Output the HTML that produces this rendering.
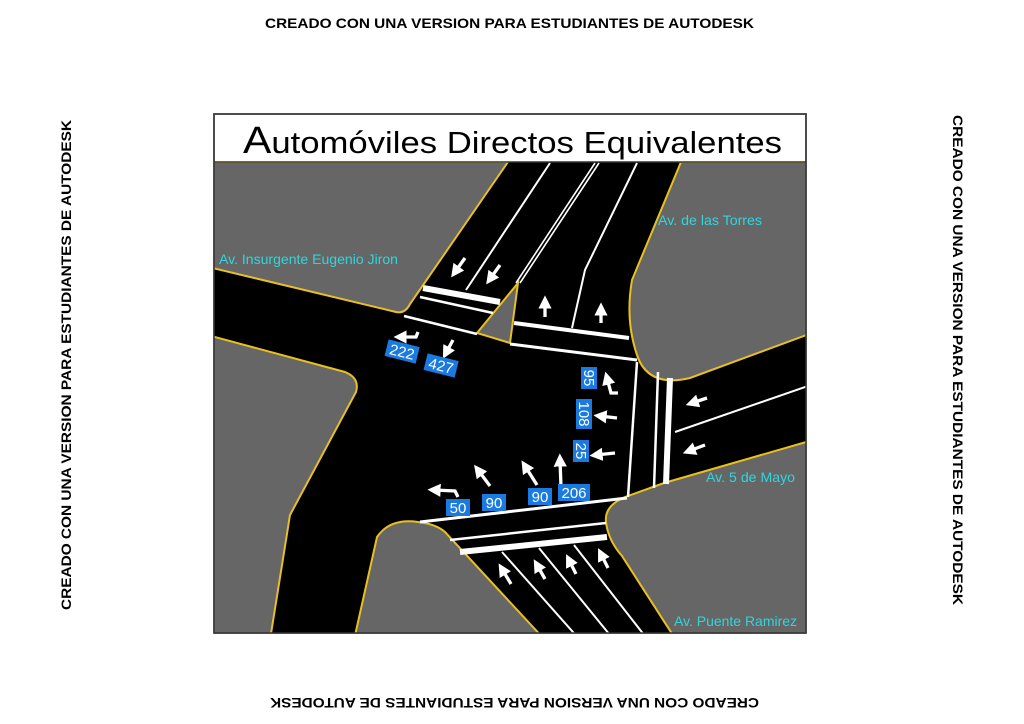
<!DOCTYPE html>
<html><head><meta charset="utf-8"><style>
html,body{margin:0;padding:0;background:#fff;width:1024px;height:724px;overflow:hidden}
svg{display:block}
.wm{font-family:"Liberation Sans",Arial,sans-serif;font-weight:bold;font-size:14px;fill:#000}
.st{font-family:"Liberation Sans",Arial,sans-serif;font-size:14px;fill:#2fd6dc}
.num{font-family:"Liberation Sans",Arial,sans-serif;font-size:15px;fill:#fff}
</style></head><body>
<svg width="1024" height="724" viewBox="0 0 1024 724" xmlns="http://www.w3.org/2000/svg">
<defs>
<marker id="ah" markerWidth="4" markerHeight="4" refX="2" refY="2" orient="auto" markerUnits="strokeWidth">
<path d="M0,0 L4,2 L0,4 z" fill="#fff"/></marker>
<clipPath id="mc"><rect x="214" y="162" width="592" height="471"/></clipPath>
</defs>
<text class="wm" x="265" y="28" textLength="489" lengthAdjust="spacingAndGlyphs">CREADO CON UNA VERSION PARA ESTUDIANTES DE AUTODESK</text>
<text class="wm" transform="translate(759,698) rotate(180)" textLength="489" lengthAdjust="spacingAndGlyphs">CREADO CON UNA VERSION PARA ESTUDIANTES DE AUTODESK</text>
<text class="wm" transform="translate(71,610) rotate(-90)" textLength="490" lengthAdjust="spacingAndGlyphs">CREADO CON UNA VERSION PARA ESTUDIANTES DE AUTODESK</text>
<text class="wm" transform="translate(953,115) rotate(90)" textLength="490" lengthAdjust="spacingAndGlyphs">CREADO CON UNA VERSION PARA ESTUDIANTES DE AUTODESK</text>

<rect x="214" y="114" width="592" height="519" fill="#fff" stroke="#333" stroke-width="1.5"/>
<text x="243" y="153" font-family="Liberation Sans,Arial,sans-serif" font-size="31" fill="#000" textLength="539" lengthAdjust="spacingAndGlyphs"><tspan font-size="38">A</tspan>utomóviles Directos Equivalentes</text>

<g clip-path="url(#mc)">
<rect x="214" y="162" width="592" height="471" fill="#000"/>
<g fill="#666" stroke="#e8c020" stroke-width="2">
<path d="M200,162 L508,162 L410,304 Q405,314 396,312 L200,265 Z"/>
<path d="M681,162 L820,162 L820,330 L690,378 Q648,388 637,355 Q625,320 632,280 L681,162 Z"/>
<path d="M200,333 L345,372 Q360,378 356,392 L290,515 L270,640 L200,640 Z"/>
<path d="M377,537 Q390,518 418,522 Q436,524 445,532 L545,640 L354,640 Z"/>
<path d="M820,438 L664,483 L625,497 Q604,506 606,522 Q608,540 622,556 L676,640 L820,640 Z"/>
<path d="M477,333 L518,283 L510,343 Z"/>
</g>
<g stroke="#fff" fill="none">
<line x1="550" y1="163" x2="466" y2="290" stroke-width="2"/>
<line x1="595" y1="163" x2="516" y2="283" stroke-width="1.6"/>
<line x1="599" y1="163" x2="520" y2="283" stroke-width="1.6"/>
<path d="M637,163 L585,270 L572,328" stroke-width="2"/>
<line x1="423" y1="288" x2="500" y2="302" stroke-width="6"/>
<line x1="420" y1="297" x2="493" y2="313" stroke-width="2.5"/>
<line x1="404" y1="316" x2="477" y2="334" stroke-width="2.5"/>
<line x1="514" y1="323" x2="629" y2="338" stroke-width="4"/>
<line x1="510" y1="344" x2="637" y2="360" stroke-width="3"/>
<line x1="637" y1="362" x2="628" y2="497" stroke-width="2.5"/>
<line x1="658" y1="372" x2="654" y2="488" stroke-width="2.5"/>
<line x1="670" y1="378" x2="666" y2="484" stroke-width="6"/>
<line x1="675" y1="432" x2="808" y2="386" stroke-width="2"/>
<line x1="420" y1="522" x2="627" y2="498" stroke-width="3"/>
<line x1="450" y1="540" x2="606" y2="523" stroke-width="2.5"/>
<line x1="460" y1="552" x2="607" y2="537" stroke-width="6"/>
<line x1="502" y1="552" x2="580" y2="640" stroke-width="2"/>
<line x1="539" y1="548" x2="614" y2="640" stroke-width="2"/>
<line x1="574" y1="545" x2="648" y2="640" stroke-width="2"/>
</g>
<g stroke="#fff" stroke-width="3.3" fill="none" marker-end="url(#ah)">
<line x1="465" y1="258" x2="455" y2="272"/>
<line x1="500" y1="265" x2="490" y2="279"/>
<line x1="545" y1="317" x2="545" y2="302"/>
<line x1="601" y1="323" x2="601" y2="309"/>
<path d="M418,332 L416,337 L400,337"/>
<line x1="453" y1="340" x2="446" y2="353"/>
<path d="M618,393 L611,393 L607,378"/>
<line x1="617" y1="418" x2="600" y2="416"/>
<line x1="615" y1="453" x2="596" y2="455"/>
<line x1="707" y1="398" x2="692" y2="403"/>
<line x1="705" y1="445" x2="689" y2="451"/>
<path d="M458,497 L455,491 L434,490"/>
<line x1="490" y1="486" x2="478" y2="470"/>
<line x1="537" y1="485" x2="525" y2="466"/>
<line x1="561" y1="487" x2="560" y2="460"/>
<line x1="511" y1="584" x2="502" y2="569"/>
<line x1="545" y1="579" x2="537" y2="565"/>
<line x1="576" y1="574" x2="569" y2="560"/>
<line x1="608" y1="568" x2="601" y2="554"/>
</g>
<g>
<g transform="translate(402,352) rotate(14)"><rect x="-16" y="-9" width="32" height="17" fill="#1a7ae0"/><text class="num" x="0" y="5" text-anchor="middle">222</text></g>
<g transform="translate(441,366) rotate(14)"><rect x="-16" y="-9" width="32" height="17" fill="#1a7ae0"/><text class="num" x="0" y="5" text-anchor="middle">427</text></g>
<g transform="translate(589,378) rotate(90)"><rect x="-11" y="-8" width="22" height="16" fill="#1a7ae0"/><text class="num" x="0" y="5" text-anchor="middle">95</text></g>
<g transform="translate(584,414) rotate(90)"><rect x="-15" y="-8" width="30" height="16" fill="#1a7ae0"/><text class="num" x="0" y="5" text-anchor="middle">108</text></g>
<g transform="translate(581,451) rotate(90)"><rect x="-11" y="-8" width="22" height="16" fill="#1a7ae0"/><text class="num" x="0" y="5" text-anchor="middle">25</text></g>
<g transform="translate(458,508)"><rect x="-12" y="-9" width="24" height="17" fill="#1a7ae0"/><text class="num" x="0" y="5" text-anchor="middle">50</text></g>
<g transform="translate(494,503)"><rect x="-12" y="-9" width="24" height="17" fill="#1a7ae0"/><text class="num" x="0" y="5" text-anchor="middle">90</text></g>
<g transform="translate(540,497)"><rect x="-12" y="-9" width="24" height="17" fill="#1a7ae0"/><text class="num" x="0" y="5" text-anchor="middle">90</text></g>
<g transform="translate(574,493)"><rect x="-16" y="-9" width="32" height="17" fill="#1a7ae0"/><text class="num" x="0" y="5" text-anchor="middle">206</text></g>
</g>
<text class="st" x="219" y="264" textLength="179" lengthAdjust="spacingAndGlyphs">Av. Insurgente Eugenio Jiron</text>
<text class="st" x="658" y="225" textLength="104" lengthAdjust="spacingAndGlyphs">Av. de las Torres</text>
<text class="st" x="706" y="482" textLength="89" lengthAdjust="spacingAndGlyphs">Av. 5 de Mayo</text>
<text class="st" x="674" y="626" textLength="123" lengthAdjust="spacingAndGlyphs">Av. Puente Ramirez</text>
</g>
<rect x="214" y="114" width="592" height="519" fill="none" stroke="#333" stroke-width="1.5"/>
<line x1="214" y1="162" x2="806" y2="162" stroke="#333" stroke-width="1.5"/>
</svg>
</body></html>
